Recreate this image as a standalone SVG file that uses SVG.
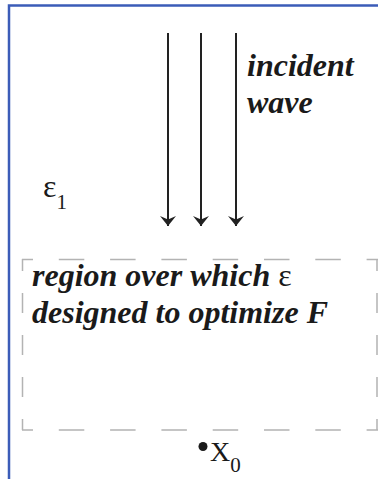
<svg xmlns="http://www.w3.org/2000/svg" width="378" height="479" viewBox="0 0 378 479">
<style>
.frame{fill:none;stroke:#3b5cb8;stroke-width:2.5}
.dash{stroke:#b3b3b3;stroke-width:1.5;fill:none}
.h{stroke-dasharray:25.5 25.8;stroke-dashoffset:14.5}
.v{stroke-dasharray:20 22;stroke-dashoffset:8}
.shaft{stroke:#222;stroke-width:2;fill:none}
.lbl{font-weight:bold;font-style:italic;fill:#1a1a1a}
.sym{fill:#1a1a1a}
</style>
<defs>
<marker id="ah" markerUnits="userSpaceOnUse" markerWidth="20" markerHeight="20" viewBox="-12 -10 14 20" refX="0" refY="0" orient="auto">
<path d="M0,0 L-10,-8 L-6.5,0 L-10,8 Z" fill="#222"/>
</marker>
</defs>
<rect width="378" height="479" fill="#fff"/>
<path class="frame" d="M9,479 V5.5 H378"/>
<g id="region">
<line class="dash h" x1="22" y1="259.5" x2="378" y2="259.5"/>
<line class="dash h" x1="22" y1="430" x2="378" y2="430"/>
<line class="dash v" x1="22.5" y1="259" x2="22.5" y2="430"/>
<line class="dash v" x1="377" y1="259" x2="377" y2="430"/>
<text class="lbl" font-family="'Liberation Serif', 'DejaVu Serif', serif" font-size="32" x="32" y="286">region over which <tspan font-style="normal" font-weight="normal">ε</tspan></text>
<text class="lbl" font-family="'Liberation Serif', 'DejaVu Serif', serif" font-size="32" x="32" y="323">designed to optimize F</text>
</g>
<g id="connectors">
<line class="shaft" x1="168" y1="33" x2="168" y2="226" marker-end="url(#ah)"/>
<line class="shaft" x1="201" y1="33" x2="201" y2="226" marker-end="url(#ah)"/>
<line class="shaft" x1="236" y1="33" x2="236" y2="226" marker-end="url(#ah)"/>
</g>
<g id="incident-wave">
<text class="lbl" font-family="'Liberation Serif', 'DejaVu Serif', serif" font-size="32" x="247" y="76">incident</text>
<text class="lbl" font-family="'Liberation Serif', 'DejaVu Serif', serif" font-size="32" x="247" y="113">wave</text>
</g>
<g id="eps1">
<text class="sym" font-family="'Liberation Serif', 'DejaVu Serif', serif" font-size="32" x="43" y="197">ε<tspan font-size="21" dy="12">1</tspan></text>
</g>
<g id="x0">
<circle cx="203" cy="446.5" r="4.5" fill="#1a1a1a"/>
<text class="sym" font-family="'Liberation Serif', 'DejaVu Serif', serif" font-size="28" x="210" y="461">X<tspan font-size="21" dy="11">0</tspan></text>
</g>
</svg>
